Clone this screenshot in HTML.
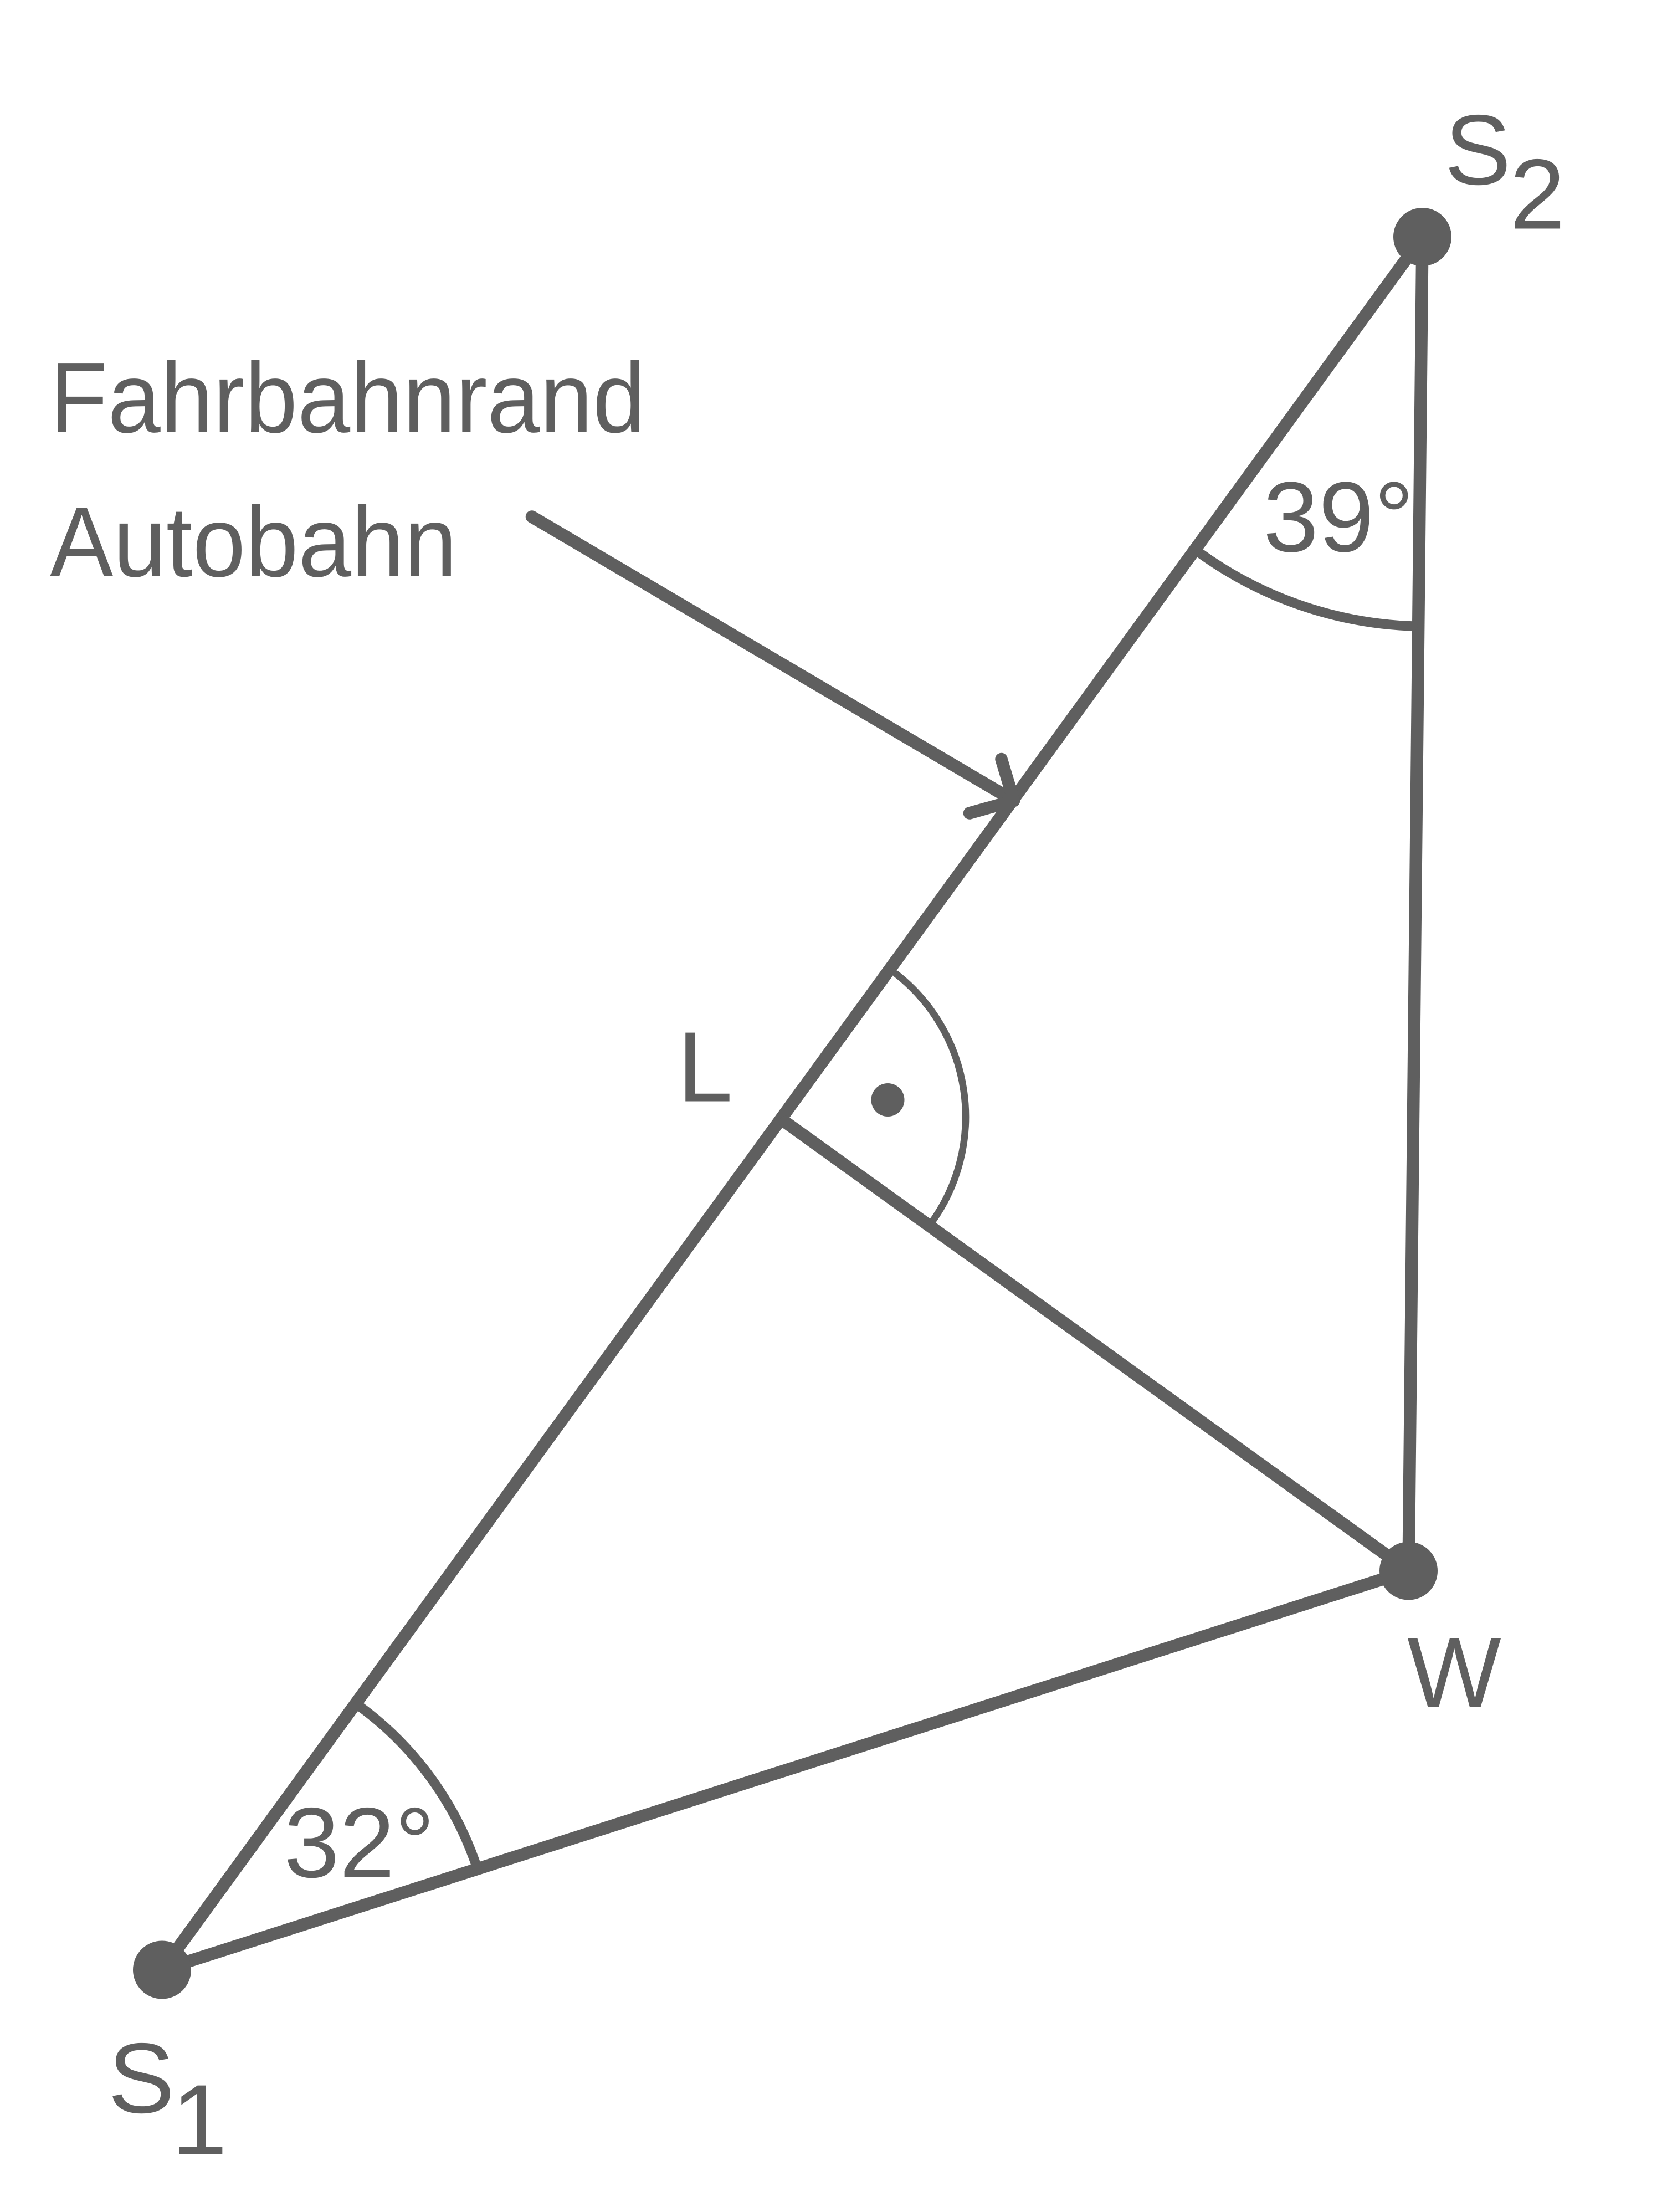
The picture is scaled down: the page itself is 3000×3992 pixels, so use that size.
<!DOCTYPE html>
<html><head><meta charset="utf-8"><style>html,body{margin:0;padding:0;background:#fff}svg{display:block}</style></head>
<body>
<svg width="3000" height="3992" viewBox="0 0 1200 1596.8" xmlns="http://www.w3.org/2000/svg">
<g stroke="#5f5f5f" fill="none" stroke-linecap="round" stroke-linejoin="round">
<line x1="117" y1="1422" x2="1027" y2="171" stroke-width="9"/>
<line x1="1027" y1="171" x2="1017" y2="1134" stroke-width="9"/>
<line x1="117" y1="1422" x2="1017" y2="1134" stroke-width="9"/>
<line x1="567" y1="810" x2="1017" y2="1134" stroke-width="9"/>
<line x1="384" y1="373" x2="732" y2="578" stroke-width="9"/>
<polyline points="700,587 732,578 723,548" stroke-width="9"/>
<path d="M260 1232 A238 238 0 0 1 345 1350" stroke-width="7"/>
<path d="M866 399 A280 280 0 0 0 1020 452" stroke-width="7"/>
<path d="M647 703 A131 131 0 0 1 673 882" stroke-width="5"/>
</g>
<g fill="#5f5f5f">
<circle cx="1027" cy="171" r="21"/>
<circle cx="117" cy="1422" r="21"/>
<circle cx="1017" cy="1134" r="21"/>
<circle cx="641" cy="794" r="12"/>
</g>
<g fill="#5f5f5f" font-family="Liberation Sans, sans-serif" font-size="72">
<text x="36" y="312" textLength="430" lengthAdjust="spacingAndGlyphs">Fahrbahnrand</text>
<text x="36" y="416" textLength="294" lengthAdjust="spacingAndGlyphs">Autobahn</text>
<text x="1043" y="133">S</text>
<text x="1090" y="165">2</text>
<text x="78" y="1525">S</text>
<text x="124" y="1555">1</text>
<text x="489" y="795">L</text>
<text x="1016" y="1232">W</text>
<text x="912" y="398">39°</text>
<text x="205" y="1355">32°</text>
</g>
</svg>
</body></html>
